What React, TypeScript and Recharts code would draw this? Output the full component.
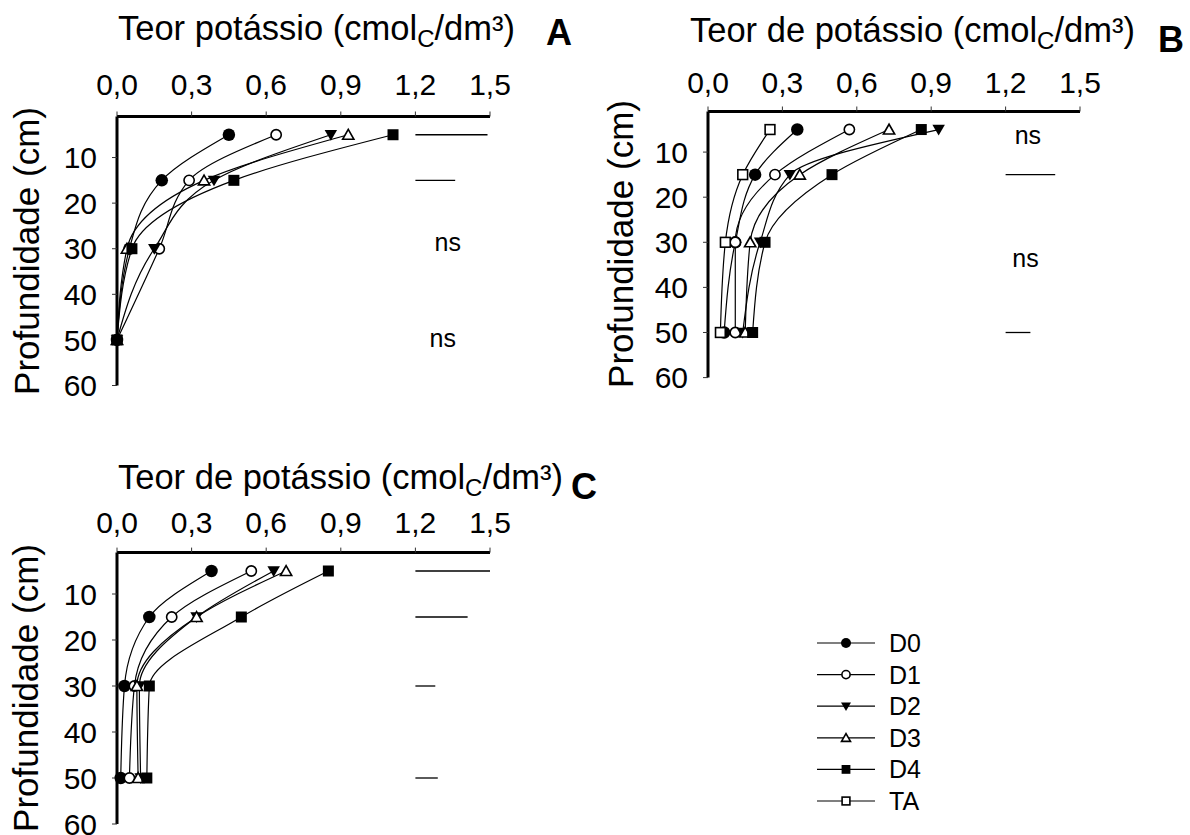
import React from "react";
import { ComposedChart, Scatter, XAxis, YAxis, ReferenceLine, ReferenceDot } from "recharts";

const FONT = '"Liberation Sans", Arial, Helvetica, sans-serif';

// depths (cm) where samples were taken
const depths = [5, 15, 30, 50];
const xTicks = [0, 0.3, 0.6, 0.9, 1.2, 1.5];
const yTicks = [10, 20, 30, 40, 50, 60];
const lsdStart = 1.2;

// Panel A
const aD0 = [0.45, 0.18, 0.05, 0.0];
const aD1 = [0.64, 0.29, 0.17, 0.0];
const aD2 = [0.86, 0.39, 0.15, 0.0];
const aD3 = [0.93, 0.35, 0.04, 0.0];
const aD4 = [1.11, 0.47, 0.06, 0.0];
const aLsd = [
  { depth: 5, len: 0.29 },
  { depth: 15, len: 0.16 },
];
const aNs = [
  { x: 1.33, depth: 28.6 },
  { x: 1.31, depth: 49.5 },
];

// Panel B
const bD0 = [0.36, 0.19, 0.11, 0.065];
const bD1 = [0.57, 0.27, 0.11, 0.11];
const bD2 = [0.93, 0.33, 0.21, 0.14];
const bD3 = [0.73, 0.37, 0.17, 0.15];
const bD4 = [0.86, 0.5, 0.23, 0.18];
const bTA = [0.25, 0.14, 0.07, 0.05];
const bLsd = [
  { depth: 15, len: 0.2 },
  { depth: 50, len: 0.1 },
];
const bNs = [
  { x: 1.29, depth: 6.2 },
  { x: 1.28, depth: 33.5 },
];

// Panel C
const cD0 = [0.38, 0.13, 0.03, 0.015];
const cD1 = [0.54, 0.22, 0.07, 0.05];
const cD2 = [0.63, 0.32, 0.09, 0.095];
const cD3 = [0.68, 0.32, 0.08, 0.085];
const cD4 = [0.85, 0.5, 0.13, 0.12];
const cLsd = [
  { depth: 5, len: 0.3 },
  { depth: 15, len: 0.21 },
  { depth: 30, len: 0.08 },
  { depth: 50, len: 0.09 },
];
const cNs: { x: number; depth: number }[] = [];

const legendNames = ["D0", "D1", "D2", "D3", "D4", "TA"];
const markerKinds = ["circleFilled", "circleOpen", "triDown", "triUp", "squareFilled", "squareOpen"];

type Kind = string;

function Marker({ kind, cx, cy, s }: { kind: Kind; cx: number; cy: number; s: number }) {
  if (cx == null || cy == null) return null;
  const h = s / 2;
  switch (kind) {
    case "circleFilled":
      return <circle cx={cx} cy={cy} r={h} fill="#000" />;
    case "circleOpen":
      return <circle cx={cx} cy={cy} r={h * 0.82} fill="#fff" stroke="#000" strokeWidth={1.6} />;
    case "triDown":
      return (
        <polygon
          points={`${cx - h},${cy - h * 0.75} ${cx + h},${cy - h * 0.75} ${cx},${cy + h * 0.95}`}
          fill="#000"
        />
      );
    case "triUp":
      return (
        <polygon
          points={`${cx - h * 0.9},${cy + h * 0.72} ${cx + h * 0.9},${cy + h * 0.72} ${cx},${cy - h * 0.85}`}
          fill="#fff"
          stroke="#000"
          strokeWidth={1.6}
        />
      );
    case "squareFilled":
      return <rect x={cx - h * 0.88} y={cy - h * 0.88} width={h * 1.76} height={h * 1.76} fill="#000" />;
    case "squareOpen":
      return (
        <rect
          x={cx - h * 0.78}
          y={cy - h * 0.78}
          width={h * 1.56}
          height={h * 1.56}
          fill="#fff"
          stroke="#000"
          strokeWidth={1.6}
        />
      );
    default:
      return null;
  }
}

interface SeriesDef {
  name: string;
  kind: Kind;
  values: number[];
}

interface PanelProps {
  left: number;
  top: number;
  width: number;
  height: number;
  margin: { top: number; right: number; bottom: number; left: number };
  series: SeriesDef[];
  lsd: { depth: number; len: number }[];
  ns: { x: number; depth: number }[];
  xTickMargin: number;
}

const fmt = (v: number) => v.toFixed(1).replace(".", ",");

function Panel({ left, top, width, height, margin, series, lsd, ns, xTickMargin }: PanelProps) {
  return (
    <div style={{ position: "absolute", left, top }}>
      <ComposedChart width={width} height={height} margin={margin}>
        <XAxis
          type="number"
          dataKey="x"
          orientation="top"
          domain={[0, 1.5]}
          ticks={xTicks}
          tickFormatter={fmt}
          height={40}
          axisLine={{ stroke: "#000", strokeWidth: 3 }}
          tickLine={{ stroke: "#333", strokeWidth: 1 }}
          tickSize={5}
          tickMargin={xTickMargin}
          tick={{ fill: "#000", fontSize: 30, fontFamily: FONT }}
          interval={0}
        />
        <YAxis
          type="number"
          dataKey="y"
          domain={[1, 60]}
          reversed
          ticks={yTicks}
          width={60}
          axisLine={{ stroke: "#000", strokeWidth: 3 }}
          tickLine={{ stroke: "#333", strokeWidth: 1 }}
          tickSize={5}
          tickMargin={15}
          tick={{ fill: "#000", fontSize: 30, fontFamily: FONT }}
          interval={0}
        />
        {lsd.map((l) => (
          <ReferenceLine
            key={`lsd-${l.depth}`}
            segment={[
              { x: lsdStart, y: l.depth },
              { x: lsdStart + l.len, y: l.depth },
            ]}
            stroke="#000"
            strokeWidth={1.3}
          />
        ))}
        {ns.map((n, i) => (
          <ReferenceDot
            key={`ns-${i}`}
            x={n.x}
            y={n.depth}
            r={0}
            shape={(p: any) => (
              <text
                x={p.cx}
                y={p.cy}
                textAnchor="middle"
                dominantBaseline="central"
                fontSize={25}
                fontFamily={FONT}
                fill="#000"
              >
                ns
              </text>
            )}
          />
        ))}
        {series.map((s) => (
          <Scatter
            key={s.name}
            name={s.name}
            data={depths.map((d, i) => ({ x: s.values[i], y: d }))}
            line={{ stroke: "#000", strokeWidth: 1.2 }}
            lineType="joint"
            lineJointType="monotoneY"
            shape={(p: any) => <Marker kind={s.kind} cx={p.cx} cy={p.cy} s={12.5} />}
            isAnimationActive={false}
          />
        ))}
      </ComposedChart>
    </div>
  );
}

const seriesA: SeriesDef[] = [
  { name: "D0", kind: "circleFilled", values: aD0 },
  { name: "D1", kind: "circleOpen", values: aD1 },
  { name: "D2", kind: "triDown", values: aD2 },
  { name: "D3", kind: "triUp", values: aD3 },
  { name: "D4", kind: "squareFilled", values: aD4 },
];
const seriesB: SeriesDef[] = [
  { name: "D0", kind: "circleFilled", values: bD0 },
  { name: "D1", kind: "circleOpen", values: bD1 },
  { name: "D2", kind: "triDown", values: bD2 },
  { name: "D3", kind: "triUp", values: bD3 },
  { name: "D4", kind: "squareFilled", values: bD4 },
  { name: "TA", kind: "squareOpen", values: bTA },
];
const seriesC: SeriesDef[] = [
  { name: "D0", kind: "circleFilled", values: cD0 },
  { name: "D1", kind: "circleOpen", values: cD1 },
  { name: "D2", kind: "triDown", values: cD2 },
  { name: "D3", kind: "triUp", values: cD3 },
  { name: "D4", kind: "squareFilled", values: cD4 },
];

function Title({ x, y, withDe }: { x: number; y: number; withDe: boolean }) {
  return (
    <text x={x} y={y} fontSize={34.5} fontFamily={FONT} fill="#000">
      {withDe ? "Teor de potássio (cmol" : "Teor potássio (cmol"}
      <tspan fontSize={24} dy={7}>
        C
      </tspan>
      <tspan dy={-7}>/dm³)</tspan>
    </text>
  );
}

function YLabel({ x, y }: { x: number; y: number }) {
  return (
    <text
      x={x}
      y={y}
      transform={`rotate(-90 ${x} ${y})`}
      textAnchor="middle"
      dominantBaseline="central"
      fontSize={35}
      fontFamily={FONT}
      fill="#000"
    >
      Profundidade (cm)
    </text>
  );
}

export default function App() {
  return (
    <div style={{ position: "absolute", left: 0, top: 0, width: 1190, height: 835, background: "#fff", overflow: "hidden" }}>
      <Panel
        left={0}
        top={0}
        width={520}
        height={412}
        margin={{ top: 76.5, right: 30, bottom: 26.5, left: 57 }}
        series={seriesA}
        lsd={aLsd}
        ns={aNs}
        xTickMargin={17}
      />
      <Panel
        left={600}
        top={0}
        width={520}
        height={412}
        margin={{ top: 71.5, right: 40, bottom: 34.4, left: 48 }}
        series={seriesB}
        lsd={bLsd}
        ns={bNs}
        xTickMargin={14}
      />
      <Panel
        left={0}
        top={440}
        width={520}
        height={395}
        margin={{ top: 72.6, right: 30, bottom: 11, left: 57 }}
        series={seriesC}
        lsd={cLsd}
        ns={cNs}
        xTickMargin={15}
      />
      <svg
        width={1190}
        height={835}
        style={{ position: "absolute", left: 0, top: 0, pointerEvents: "none" }}
      >
        <Title x={118} y={40} withDe={false} />
        <text x={546} y={45} fontSize={36} fontWeight="bold" fontFamily={FONT}>
          A
        </text>
        <Title x={690} y={42} withDe />
        <text x={1158} y={52} fontSize={36} fontWeight="bold" fontFamily={FONT}>
          B
        </text>
        <Title x={118} y={489} withDe />
        <text x={571} y={499} fontSize={36} fontWeight="bold" fontFamily={FONT}>
          C
        </text>
        <YLabel x={26} y={251} />
        <YLabel x={620} y={244} />
        <YLabel x={25} y={688} />
        {legendNames.map((n, i) => {
          const cy = 643 + i * 31.6;
          return (
            <g key={n}>
              <line x1={817} x2={875} y1={cy} y2={cy} stroke="#000" strokeWidth={1.2} />
              <Marker kind={markerKinds[i]} cx={846} cy={cy} s={10} />
              <text x={889} y={cy} dominantBaseline="central" fontSize={25} fontFamily={FONT} fill="#000">
                {n}
              </text>
            </g>
          );
        })}
      </svg>
    </div>
  );
}
